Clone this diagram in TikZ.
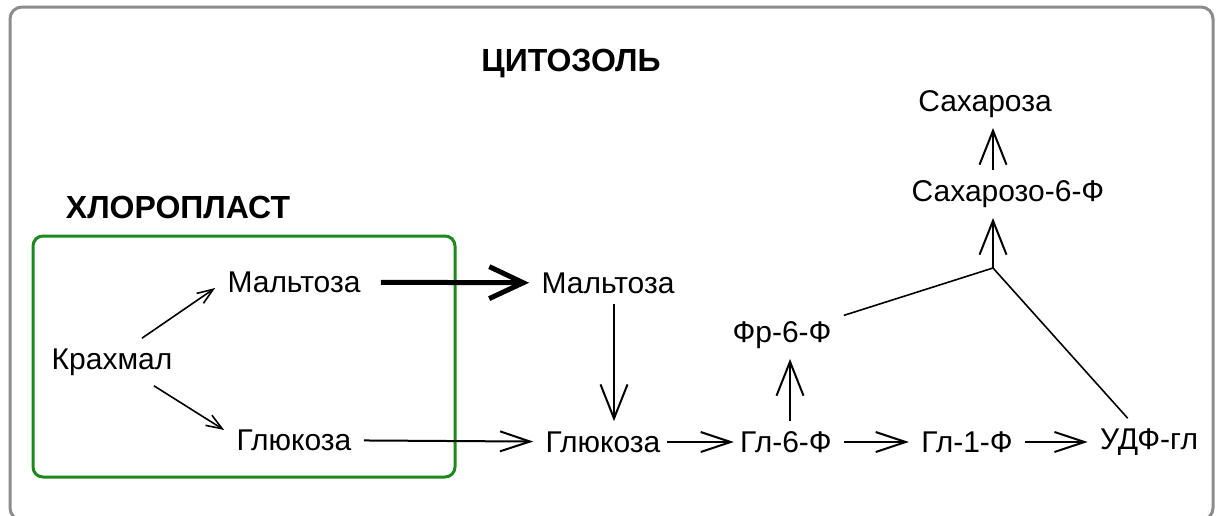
\documentclass[tikz,border=0pt]{standalone}
\usepackage{fontspec}
\setsansfont{Liberation Sans}
\usepackage{tikz}
\usetikzlibrary{arrows.meta}
\definecolor{cellgray}{HTML}{8C8C8C}
\definecolor{plastgreen}{HTML}{1E871E}

\begin{document}
\begin{tikzpicture}[x=0.5pt, y=-0.5pt,
  every node/.style={font=\sffamily\fontsize{15}{18}\selectfont, inner xsep=6pt, inner ysep=5pt},
  title/.style={font=\sffamily\bfseries\fontsize{16}{19}\selectfont},
  link/.style={line width=0.8pt},
  flow/.style={-{Straight Barb[length=15pt, width=10pt]}, line width=1pt},
  vflow/.style={-{Straight Barb[length=17pt, width=13.5pt]}, line width=1pt},
  smallflow/.style={-{Straight Barb[length=8pt, width=6pt]}, line width=0.8pt},
  bigflow/.style={-{Straight Barb[length=17pt, width=16pt]}, line width=2.5pt}]
  \useasboundingbox (0,0) rectangle (1218,515);
  \draw[cellgray, line width=1.5pt, rounded corners=6pt] (10,7) rectangle (1213,520);
  \draw[plastgreen, line width=1.5pt, rounded corners=5pt] (33,236) rectangle (455,477);

  \node[title] (cyto) at (571,64) {ЦИТОЗОЛЬ};
  \node[title] (chloro) at (178,207) {ХЛОРОПЛАСТ};

  \node (kra) at (112,362) {Крахмал};
  \node (maltA) at (294,282) {Мальтоза};
  \node (gluA) at (294,440) {Глюкоза};
  \node (maltB) at (608,283) {Мальтоза};
  \node (gluB) at (603,442) {Глюкоза};
  \node (gl6) at (786,442) {Гл-6-Ф};
  \node (gl1) at (967,442) {Гл-1-Ф};
  \node (udf) at (1149,442) {УДФ-гл};
  \node (fr6) at (782,335) {Фр-6-Ф};
  \node (sah6) at (1008,194) {Сахарозо-6-Ф};
  \node (sah) at (985,104) {Сахароза};
  \coordinate (jn) at (993,268);

  \draw[smallflow] ([xshift=15pt]kra.north) -- ([yshift=-3pt]maltA.west);
  \draw[smallflow] ([xshift=21pt]kra.south) -- ([yshift=5pt]gluA.west);
  \draw[bigflow, shorten <=4pt] (maltA) -- (maltB);
  \draw[flow] (gluA) -- (gluB);
  \draw[vflow] ([xshift=3pt]maltB.south) -- ([xshift=3pt]maltB.south |- gluB.north);
  \draw[flow, shorten <=-3pt, shorten >=-3pt] (gluB) -- (gl6);
  \draw[flow] (gl6) -- (gl1);
  \draw[flow] (gl1) -- (udf);
  \draw[vflow] ([xshift=2pt]gl6.north) -- ([xshift=2pt]gl6.north |- fr6.south);
  \draw[link] (fr6) -- (jn);
  \draw[link] (udf) -- (jn);
  \draw[vflow] (jn) -- (jn |- sah6.south);
  \draw[vflow] (sah6.north -| jn) -- (jn |- sah.south);
\end{tikzpicture}
\end{document}
